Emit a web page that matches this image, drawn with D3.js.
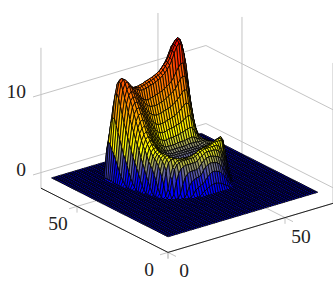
<!DOCTYPE html>
<html>
<head>
<meta charset="utf-8">
<script src="https://cdn.jsdelivr.net/npm/d3@7"></script>
<style>
  html, body { margin: 0; padding: 0; background: #fff; }
  svg { display: block; }
  text { font-family: "Liberation Serif", serif; font-size: 19.5px; fill: #222; }
</style>
</head>
<body>
<div id="chart"></div>
<script>
const xTicks = [0, 50];
const yTicks = [0, 50];
const zTicks = [0, 10];
const gridSize = 64;

// y value of the first row in surfaceRows, and the x of each row's first value. Everything else is 0.
const firstRowY = 21;
const rowFirstX = [31,28,26,24,22,21,20,20,19,19,19,18,18,18,17,17,17,17,16,16,16,16,15,15,15,15,15,14,14,14,14,14,15,16,17];
const surfaceRows = [
[.3,.5,.7,.9,1,1.1,1.1,1,.9,.7,.5,.3],
[.3,.8,1,1.2,1.3,1.6,2,2.3,2.5,2.5,2.4,2.3,2,1.6,1.1,.6,.2],
[.5,1.3,1.8,2,2.1,2.2,2.3,2.8,3.2,3.4,3.5,3.5,3.4,3.3,3,2.6,2,1.4,.8,.2],
[.5,1.6,2.4,2.8,3,3,3,3,3.2,3.6,3.9,4.1,4.2,4.2,4.1,4,3.9,3.6,3,2.3,1.5,.8,.2],
[.5,2,3,3.5,3.7,3.8,3.8,3.8,3.8,3.8,3.9,4.2,4.4,4.6,4.7,4.7,4.7,4.7,4.6,4.4,4,3.3,2.4,1.4,.5],
[.7,2.2,3.5,4,4.2,4.3,4.3,4.3,4.3,4.3,4.3,4.4,4.6,4.8,4.9,5,5,5,5,5,5,4.8,4.3,3.5,2.6,1.5,.5],
[.2,1,2.6,3.6,4.1,4.3,4.3,4.3,4.3,4.3,4.4,4.4,4.5,4.6,4.8,4.9,5,5,5,5.1,5.2,5.3,5.3,5.3,5.2,3.5,2,.8,.1],
[1.5,3.2,4.2,4.5,4.5,4.5,4.4,4.3,4.3,4.2,4.2,4.2,4.3,4.4,4.5,4.7,4.8,4.9,4.9,5,5.1,5.2,5.3,5.4,5.4,5.1,3.8,1.9,.5,.1],
[.4,2.4,3.8,4.5,4.7,4.6,4.4,4.2,4,3.9,3.8,3.8,3.7,3.8,3.9,4,4.1,4.3,4.4,4.5,4.6,4.7,4.8,5,5.2,5.3,5.4,4.9,3,1,.2],
[1,3,4.2,4.7,4.8,4.5,4.2,3.9,3.6,3.4,3.3,3.2,3.2,3.2,3.3,3.4,3.6,3.7,3.8,4,4.1,4.2,4.3,4.5,4.7,4.9,5,5,4,1.8,.4],
[1.8,3.6,4.5,4.8,4.8,4.3,3.9,3.5,3.2,3,2.8,2.8,2.7,2.8,2.8,2.9,3,3.2,3.3,3.5,3.6,3.7,3.8,4,4.2,4.4,4.6,4.7,4.4,2.6,.7,.1],
[.3,2.4,4,4.7,4.9,4.8,4.2,3.7,3.3,2.9,2.7,2.6,2.5,2.5,2.5,2.5,2.6,2.7,2.8,3,3.1,3.2,3.3,3.5,3.6,3.8,4,4.2,4.4,4.4,3.2,1.1,.2],
[.8,3,4.3,4.8,5,4.6,4.1,3.6,3.2,2.8,2.6,2.5,2.4,2.4,2.4,2.4,2.5,2.6,2.7,2.8,2.9,3,3.1,3.2,3.3,3.5,3.7,3.9,4.1,4.2,3.5,1.4,.3],
[1.4,3.4,4.5,5,5.1,4.7,4.2,3.7,3.2,2.9,2.6,2.5,2.4,2.4,2.4,2.4,2.4,2.5,2.6,2.7,2.8,2.9,2.9,3,3.1,3.3,3.5,3.7,3.9,4.1,3.6,1.6,.3],
[.3,2,3.8,4.9,5.3,5.3,4.9,4.4,3.9,3.4,3,2.7,2.6,2.5,2.5,2.5,2.5,2.5,2.5,2.6,2.6,2.7,2.8,2.8,2.9,3,3.1,3.3,3.5,3.7,3.9,3.6,1.7,.4],
[.7,2.7,4.4,5.3,5.7,5.5,5.1,4.6,4.1,3.7,3.3,3,2.8,2.7,2.7,2.7,2.7,2.7,2.7,2.7,2.7,2.8,2.8,2.9,2.9,3,3.1,3.2,3.4,3.6,3.8,3.5,1.8,.4],
[1.3,3.4,5,5.7,6.1,5.9,5.5,5,4.5,4.1,3.7,3.4,3.2,3.1,3,3,3,3,3,3,3,3,3,3,3,3.1,3.1,3.2,3.3,3.5,3.7,3.5,1.9,.4],
[2,4,5.4,6.2,6.5,6.2,5.7,5.1,4.6,4.2,3.8,3.5,3.3,3.2,3.1,3.1,3.1,3.1,3.1,3.1,3.1,3.1,3.1,3.1,3.1,3.1,3.1,3.2,3.3,3.4,3.6,3.4,1.9,.5],
[.3,2.6,4.8,6,6.7,7,6.7,6.2,5.6,5.1,4.6,4.2,3.8,3.6,3.4,3.3,3.2,3.2,3.2,3.2,3.2,3.2,3.2,3.2,3.2,3.2,3.2,3.2,3.3,3.4,3.5,3.5,3.4,2,.5],
[.7,3.2,5.4,6.8,7.4,7.6,7.3,6.8,6.2,5.7,5.2,4.7,4.3,3.9,3.6,3.5,3.5,3.5,3.5,3.5,3.5,3.5,3.5,3.5,3.6,3.6,3.6,3.6,3.5,3.5,3.5,3.5,3.4,2,.5],
[1.2,3.8,6,7.4,8.1,8.3,8,7.5,6.9,6.3,5.8,5.3,4.8,4.4,4.1,3.9,3.9,3.9,3.9,3.9,4,4,4,4,4.1,4.1,4.2,4.1,3.9,3.7,3.6,3.5,3.4,2,.5],
[1.8,4.5,6.8,8.1,8.8,9,8.7,8.2,7.6,7,6.5,6,5.5,5,4.8,4.6,4.6,4.7,4.7,4.7,4.8,4.8,4.9,5,5.1,5.2,5.3,5.2,4.7,4.2,3.7,3.6,3.3,1.9,.5],
[.3,2.6,5.2,7.5,8.9,9.5,9.6,9.3,8.8,8.3,7.7,7.2,6.7,6.2,5.8,5.6,5.5,5.5,5.6,5.7,5.7,5.8,5.9,6,6.1,6.3,6.5,6.7,6.6,5.8,4.9,4.1,3.7,3.2,1.8,.4],
[.6,3.2,6,8.2,9.7,10.2,10.2,9.9,9.4,8.9,8.4,7.9,7.4,7,6.7,6.5,6.5,6.5,6.6,6.7,6.8,6.9,7,7.2,7.4,7.7,8,8.2,8,7.1,6,4.7,3.9,3,1.7,.4],
[1,3.8,6.8,9,10.4,10.8,10.7,10.4,9.9,9.5,9,8.6,8.2,7.9,7.7,7.6,7.6,7.7,7.8,7.9,8,8.1,8.3,8.5,8.8,9.1,9.5,9.8,9.6,8.6,7.3,5.6,4.3,3,1.5,.4],
[1.5,4.6,7.6,9.9,11,11.4,11.2,10.9,10.5,10.1,9.7,9.3,9,8.8,8.7,8.7,8.7,8.8,8.9,9,9.2,9.4,9.6,9.8,10.1,10.6,11.1,11.4,11.3,10.2,8.8,6.8,4.9,3.2,1.5,.3],
[2.2,5.4,8.5,10.6,11.6,12,11.7,11.3,10.9,10.5,10.1,9.8,9.6,9.5,9.6,9.7,9.8,9.9,10,10.1,10.3,10.5,10.7,11,11.4,12,12.5,12.9,12.9,11.7,10.2,8,5.7,3.5,1.5,.3],
[0,2.8,6.2,9.5,11.5,12.3,12.4,12,11.6,11.3,11.1,10.9,10.8,10.8,10.9,11,11.1,11.2,11.3,11.5,11.6,11.9,12.1,12.5,12.9,13.5,14.3,15,15.4,15,14,12.4,9.9,6.8,3.6,1.4,.3],
[.1,3.4,7,10.4,12.2,12.7,12.5,12.1,11.6,11.3,11.2,11.1,11,11.1,11.2,11.3,11.4,11.5,11.6,11.8,11.9,12.1,12.4,12.8,13.2,13.7,14.5,15.2,15.7,15.7,15,13.5,11.2,7.8,4,1.5,.3],
[.1,3.8,7.8,10.9,12.4,12.7,12.5,12,11.5,11.2,11.1,11.1,11.1,11.2,11.25,11.4,11.5,11.6,11.7,11.85,12,12.2,12.5,12.85,13.2,13.7,14.4,15.1,15.6,15.8,15.5,14.4,12.4,9,5,1.8,.3],
[.1,4.4,7.8,10.6,12,12.4,12.2,11.7,11.2,10.9,10.7,10.7,10.7,10.8,10.9,11,11.1,11.2,11.3,11.4,11.6,11.8,12,12.4,12.8,13.3,14,14.7,15.1,15.2,14.9,13.8,11.8,8.6,4.6,1.7,.3],
[.1,4.7,7,9,10.3,10.8,10.8,10.5,10.1,9.9,9.7,9.7,9.7,9.8,9.9,10,10,10.1,10.2,10.3,10.5,10.7,10.9,11.2,11.6,12,12.6,13.2,13.6,13.7,13.4,12.3,10.4,7.4,3.8,1.3,.2],
[3.5,5.2,6.4,7.2,7.8,8,7.8,7.6,7.4,7.3,7.3,7.3,7.3,7.4,7.5,7.5,7.6,7.7,7.8,7.9,8,8.2,8.4,8.7,9,9.5,9.9,10.2,10.3,10,9,7.4,5,2.3,.6],
[3,3.5,3.9,4.2,4.5,4.4,4.3,4.2,4.1,4.1,4.1,4.1,4.2,4.2,4.3,4.3,4.4,4.4,4.5,4.6,4.7,4.8,5,5.2,5.4,5.7,5.9,5.9,5.6,4.9,3.8,2.3,.8,.1],
[.5,1,1.5,1.7,1.7,1.6,1.6,1.6,1.5,1.5,1.5,1.5,1.6,1.6,1.6,1.6,1.7,1.7,1.7,1.8,1.8,1.9,1.9,2,2.1,2.2,2.2,2.1,1.9,1.4,.8,.2]
];

const width = 333, height = 283;
const zAxisMin = -2, zAxisMax = 16, xAxisMax = 70.5, yAxisMax = 69.8;

// one scale per data axis, each gives a screen offset from the front bottom corner
const xToX = d3.scaleLinear().domain([0, 50]).range([0, 117]);
const xToY = d3.scaleLinear().domain([0, 50]).range([0, -34.8]);
const yToX = d3.scaleLinear().domain([0, 50]).range([0, -91]);
const yToY = d3.scaleLinear().domain([0, 50]).range([0, -46]);
const zToY = d3.scaleLinear().domain([zAxisMin, zAxisMin + 10]).range([0, -78]);

function project(x, y, z) {
    return [168 + xToX(x) + yToX(y), 252.4 + xToY(x) + yToY(y) + zToY(z)];
}

function zAt(x, y) {
    const r = y - firstRowY;
    if (r < 0 || r >= surfaceRows.length) return 0;
    const v = surfaceRows[r][x - rowFirstX[r]];
    return v === undefined ? 0 : v;
}

// blue holds a little longer than a plain hot map, the low walls read pure blue in the picture
const zMax = d3.max(surfaceRows.flat());
const color = d3.scaleLinear()
    .domain([0, 1.3, 5, 10.5, zMax])
    .range(["rgb(0,0,255)", "rgb(0,0,255)", "rgb(255,255,0)", "rgb(255,128,0)", "rgb(255,0,0)"]);

const svg = d3.select("#chart").append("svg")
    .attr("width", width)
    .attr("height", height);

const line = d3.line();

function seg(g, points, stroke, w) {
    g.append("path")
        .attr("d", line(points))
        .attr("fill", "none")
        .attr("stroke", stroke)
        .attr("stroke-width", w);
}

const grid = svg.append("g");
const gridColor = "#c4c4c4";

zTicks.forEach(z => {
    seg(grid, [project(-3.4, yAxisMax, z), project(0, yAxisMax, z), project(xAxisMax, yAxisMax, z), project(xAxisMax, 0, z)], gridColor, 1);
});
xTicks.forEach(x => {
    seg(grid, [project(x, yAxisMax, zAxisMax), project(x, yAxisMax, zAxisMin), project(x, 0, zAxisMin), project(x, -4.4, zAxisMin)], gridColor, 1);
    seg(grid, [project(x, 0, zAxisMin), project(x, 0, zAxisMin - 0.8)], gridColor, 1);
});
yTicks.forEach(y => {
    seg(grid, [project(xAxisMax, y, zAxisMax), project(xAxisMax, y, zAxisMin), project(0, y, zAxisMin), project(-3.4, y, zAxisMin)], gridColor, 1);
    seg(grid, [project(0, y, zAxisMin), project(0, y, zAxisMin - 0.8)], gridColor, 1);
});

// back to front, each cell is one flat facet with a black outline
const cells = [];
for (let y = gridSize - 1; y >= 0; y--) {
    for (let x = gridSize - 1; x >= 0; x--) {
        cells.push({ x, y });
    }
}

svg.append("g")
    .selectAll("path")
    .data(cells)
    .join("path")
    .attr("d", d => line([
        project(d.x, d.y, zAt(d.x, d.y)),
        project(d.x + 1, d.y, zAt(d.x + 1, d.y)),
        project(d.x + 1, d.y + 1, zAt(d.x + 1, d.y + 1)),
        project(d.x, d.y + 1, zAt(d.x, d.y + 1))
    ]) + "Z")
    .attr("fill", d => color((zAt(d.x, d.y) + zAt(d.x + 1, d.y) + zAt(d.x + 1, d.y + 1) + zAt(d.x, d.y + 1)) / 4))
    .attr("stroke", "#000")
    .attr("stroke-width", 0.8)
    .attr("stroke-linejoin", "round");

const axes = svg.append("g");
seg(axes, [project(0, yAxisMax, zAxisMin), project(0, 0, zAxisMin), project(xAxisMax, 0, zAxisMin)], "#222", 1);

const labels = svg.append("g");
zTicks.forEach(z => {
    const p = project(0, yAxisMax, z);
    labels.append("text").attr("x", p[0] - 15).attr("y", p[1] + 3).attr("text-anchor", "end").text(z);
});
xTicks.forEach(x => {
    const p = project(x, 0, zAxisMin);
    labels.append("text").attr("x", p[0] + 16).attr("y", p[1] + 25).attr("text-anchor", "middle").text(x);
});
yTicks.forEach(y => {
    const p = project(0, y, zAxisMin);
    labels.append("text").attr("x", p[0] - 19).attr("y", p[1] + 23.5).attr("text-anchor", "middle").text(y);
});
</script>
</body>
</html>
